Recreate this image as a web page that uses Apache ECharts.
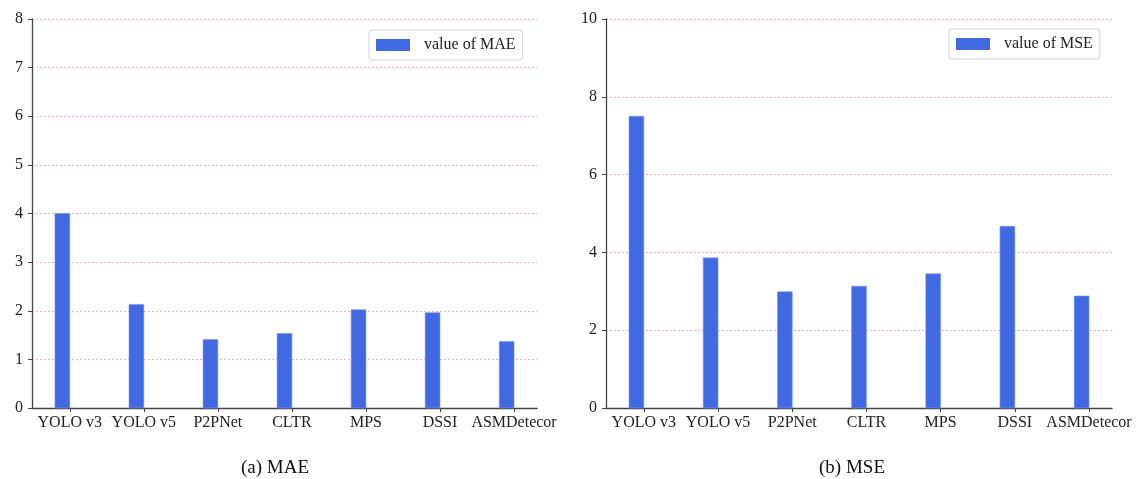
<!DOCTYPE html>
<html>
<head>
<meta charset="utf-8">
<script src="https://cdn.jsdelivr.net/npm/echarts@6/dist/echarts.min.js"></script>
<style>
html,body{margin:0;padding:0;background:#fff;}
#chart{width:1137px;height:479px;}
</style>
</head>
<body>
<div id="chart"></div>
<script>
const categories = ['YOLO v3', 'YOLO v5', 'P2PNet', 'CLTR', 'MPS', 'DSSI', 'ASMDetecor'];
const maeValues = [4.00, 2.13, 1.41, 1.53, 2.02, 1.96, 1.37];
const mseValues = [7.50, 3.86, 2.99, 3.13, 3.45, 4.67, 2.88];
const maeTicks = [0, 1, 2, 3, 4, 5, 6, 7, 8];
const mseTicks = [0, 2, 4, 6, 8, 10];
const maeName = 'value of MAE';
const mseName = 'value of MSE';
const captions = ['(a) MAE', '(b) MSE'];

const FONT = '"Liberation Serif", "Times New Roman", serif';
const BAR_COLOR = '#4169E1';
const BAR_W = 0.2;
const catIdx = categories.map((c, i) => i);

const chart = echarts.init(document.getElementById('chart'), null, {renderer: 'canvas'});

function renderBar(params, api) {
  const x = api.value(0), v = api.value(1);
  const top = api.coord([x - BAR_W, v]);
  const base = api.coord([x, 0]);
  return {
    type: 'rect',
    shape: {x: top[0], y: top[1], width: base[0] - top[0], height: base[1] - top[1]},
    style: {fill: BAR_COLOR, stroke: '#7a95ee', lineWidth: 0.6}
  };
}

function xAxis(gi) {
  return {
    type: 'value', gridIndex: gi, min: -0.51, max: 6.31,
    axisLine: {show: true, onZero: false, lineStyle: {color: '#444', width: 1.3}},
    axisTick: {show: true, customValues: catIdx, length: 4, lineStyle: {color: '#444', width: 1}},
    axisLabel: {customValues: catIdx, formatter: v => categories[Math.round(v)] || '',
      fontFamily: FONT, fontSize: 16, color: '#222', margin: 7},
    splitLine: {show: false}
  };
}
function yAxis(gi, ticks) {
  return {
    type: 'value', gridIndex: gi, min: ticks[0], max: ticks[ticks.length - 1],
    interval: ticks[1] - ticks[0],
    axisLine: {show: true, onZero: false, lineStyle: {color: '#444', width: 1.3}},
    axisTick: {show: true, length: 4, lineStyle: {color: '#444', width: 1}},
    axisLabel: {fontFamily: FONT, fontSize: 16, color: '#222', margin: 9},
    splitLine: {show: true, lineStyle: {color: '#ffb0b0', type: [2, 2], width: 1}}
  };
}
function legend(name, left, top) {
  return {
    data: [name], left: left, top: top, orient: 'horizontal',
    icon: 'rect', itemWidth: 34, itemHeight: 12,
    padding: [7, 7, 7, 7], borderColor: '#d4d4d4', borderWidth: 1, borderRadius: 3,
    backgroundColor: '#fff',
    textStyle: {fontFamily: FONT, fontSize: 16, color: '#222', padding: [0, 0, 0, 9]},
    selectedMode: false
  };
}

chart.setOption({
  animation: false,
  backgroundColor: '#fff',
  grid: [
    {left: 32, top: 19, width: 505, height: 389},
    {left: 606, top: 19, width: 506, height: 389}
  ],
  xAxis: [xAxis(0), xAxis(1)],
  yAxis: [yAxis(0, maeTicks), yAxis(1, mseTicks)],
  legend: [legend(maeName, 369, 30), legend(mseName, 949, 29)],
  series: [
    {name: maeName, type: 'custom', xAxisIndex: 0, yAxisIndex: 0,
     itemStyle: {color: BAR_COLOR}, renderItem: renderBar, encode: {x: 0, y: 1},
     data: catIdx.map(i => [i, maeValues[i]])},
    {name: mseName, type: 'custom', xAxisIndex: 1, yAxisIndex: 1,
     itemStyle: {color: BAR_COLOR}, renderItem: renderBar, encode: {x: 0, y: 1},
     data: catIdx.map(i => [i, mseValues[i]])}
  ],
  graphic: [
    {type: 'text', x: 275, y: 468, style: {text: captions[0], font: '19px ' + FONT, fill: '#111', align: 'center', verticalAlign: 'middle'}},
    {type: 'text', x: 852, y: 468, style: {text: captions[1], font: '19px ' + FONT, fill: '#111', align: 'center', verticalAlign: 'middle'}}
  ]
});
</script>
</body>
</html>
